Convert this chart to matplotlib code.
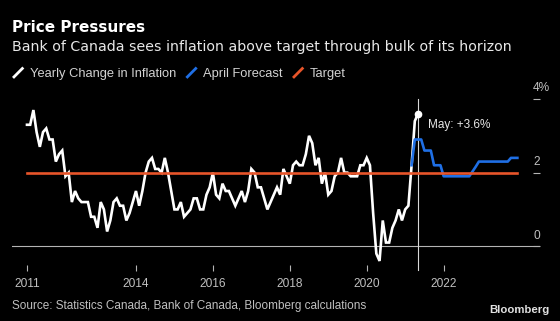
import matplotlib
matplotlib.use("Agg")
import matplotlib.pyplot as plt
import numpy as np
from matplotlib.lines import Line2D
from matplotlib.legend_handler import HandlerBase

# Canada CPI, yearly change (%), monthly from Mar 2011 to May 2021
inflation = [3.3, 3.3, 3.7, 3.1, 2.7, 3.1, 3.2, 2.9, 2.9, 2.3,
             2.5, 2.6, 1.9, 2.0, 1.2, 1.5, 1.3, 1.2, 1.2, 1.2, 0.8, 0.8,
             0.5, 1.2, 1.0, 0.4, 0.7, 1.2, 1.3, 1.1, 1.1, 0.7, 0.9, 1.2,
             1.5, 1.1, 1.5, 2.0, 2.3, 2.4, 2.1, 2.1, 2.0, 2.4, 2.0, 1.5,
             1.0, 1.0, 1.2, 0.8, 0.9, 1.0, 1.3, 1.3, 1.0, 1.0, 1.4, 1.6,
             2.0, 1.4, 1.3, 1.7, 1.5, 1.5, 1.3, 1.1, 1.3, 1.5, 1.2, 1.5,
             2.1, 2.0, 1.6, 1.6, 1.3, 1.0, 1.2, 1.4, 1.6, 1.4, 2.1, 1.9,
             1.7, 2.2, 2.3, 2.2, 2.2, 2.5, 3.0, 2.8, 2.2, 2.4, 1.7, 2.0,
             1.4, 1.5, 1.9, 2.0, 2.4, 2.0, 2.0, 1.9, 1.9, 1.9, 2.2, 2.2,
             2.4, 2.2, 0.9, -0.2, -0.4, 0.7, 0.1, 0.1, 0.5, 0.7, 1.0, 0.7,
             1.0, 1.1, 2.2, 3.4, 3.6]
infl_start = 2011 + 2/12   # Mar 2011

# April forecast, monthly from Mar 2021 to Dec 2023
forecast = [2.2, 2.9, 2.9, 2.9, 2.6, 2.6, 2.6, 2.2, 2.2, 2.2,
            1.9, 1.9, 1.9, 1.9, 1.9, 1.9, 1.9, 1.9, 1.9, 2.03, 2.16, 2.3,
            2.3, 2.3, 2.3, 2.3, 2.3, 2.3, 2.3, 2.3, 2.3, 2.4, 2.4, 2.4]
fc_start = 2021 + 2/12     # Mar 2021

target_x = [2011 + 2/12, 2023 + 11/12]
target_y = [2.0, 2.0]

xticks = [2011 + 2/12, 2014, 2016, 2018, 2020, 2022]
xlabels = ["2011", "2014", "2016", "2018", "2020", "2022"]
yticks = [0, 2, 4]
ylabels = ["0", "2", "4%"]

x_infl = infl_start + np.arange(len(inflation)) / 12
x_fc = fc_start + np.arange(len(forecast)) / 12

WHITE = "#ffffff"
BLUE = "#1f6fe5"
ORANGE = "#e8552a"
GRAY = "#b4b4b4"

plt.rcParams['font.family'] = ['Liberation Sans', 'DejaVu Sans']

W, H = 560, 321
fig = plt.figure(figsize=(W/100, H/100), dpi=100, facecolor='black')
ax = fig.add_axes([12/W, 1-265/H, 528/W, 166/H])
ax.set_facecolor('black')

ax.axhline(0, color=GRAY, lw=0.8, zorder=1)
ax.plot(x_infl, inflation, color=WHITE, lw=1.9, zorder=3, label="Yearly Change in Inflation",
        solid_joinstyle='miter')
ax.plot(x_fc, forecast, color=BLUE, lw=1.9, zorder=4, label="April Forecast")
ax.plot(target_x, target_y, color=ORANGE, lw=1.9, zorder=5, label="Target")
ax.axvline(x_infl[-1], ymin=-0.03, ymax=1, color="#d8d8d8", lw=0.8, zorder=2, clip_on=False)
ax.plot([x_infl[-1]], [inflation[-1]], 'o', color=WHITE, ms=4.5, zorder=6)
ax.annotate("May: +3.6%", xy=(x_infl[-1], inflation[-1]), xytext=(7.5, -10),
            textcoords='offset points', color="#e6e6e6", fontsize=8.5, va='baseline')

ax.set_xlim(2010.777, 2024.505)
ax.set_ylim(-0.51, 4.0)
for s in ax.spines.values():
    s.set_visible(False)

ax.set_xticks(xticks)
ax.set_xticklabels(xlabels)
ax.tick_params(axis='x', direction='out', length=4.3, width=0.8, color=GRAY,
               labelcolor="#c0c0c0", labelsize=8.6, pad=5)
ax.yaxis.tick_right()
ax.set_yticks(yticks)
ax.tick_params(axis='y', direction='in', length=5, width=0.8, color=GRAY, labelright=False)
for v, lbl in zip(yticks, ylabels):
    ax.annotate(lbl, xy=(1, v), xycoords=('axes fraction', 'data'), xytext=(-5, 5.4),
                textcoords='offset points', ha='left', va='baseline',
                color="#c0c0c0", fontsize=8.6, annotation_clip=False)


class SlashHandler(HandlerBase):
    def create_artists(self, legend, orig_handle, xdescent, ydescent, width, height,
                       fontsize, trans):
        x0 = -xdescent
        y0 = -ydescent - 0.1 * height
        ln = Line2D([x0, x0 + width], [y0, y0 + 1.15 * height], color=orig_handle.get_color(),
                    lw=2, solid_capstyle='butt', transform=trans)
        return [ln]


handles, labels = ax.get_legend_handles_labels()
leg = fig.legend(handles, labels, loc='lower left', bbox_to_anchor=(13/W, 1-80/H),
                 ncol=3, frameon=False, fontsize=9.3, handlelength=0.8, handleheight=0.7,
                 handletextpad=0.5, columnspacing=0.8, borderpad=0, borderaxespad=0,
                 handler_map={Line2D: SlashHandler()})
for t in leg.get_texts():
    t.set_color("#d2d2d2")

fig.text(12/W, 1-32.3/H, "Price Pressures", color=WHITE, fontsize=11,
         fontweight='bold', va='baseline', family=['DejaVu Sans'])
fig.text(12/W, 1-51/H, "Bank of Canada sees inflation above target through bulk of its horizon",
         color="#e8e8e8", fontsize=10.2, va='baseline', family=['DejaVu Sans'])
fig.text(12/W, 1-309/H, "Source: Statistics Canada, Bank of Canada, Bloomberg calculations",
         color="#c0c0c0", fontsize=8.5, va='baseline')
fig.text(550/W, 1-313/H, "Bloomberg", color="#e0e0e0", fontsize=8.2, fontweight='bold',
         va='baseline', ha='right')

fig.savefig("out.png", dpi=100, facecolor='black')
